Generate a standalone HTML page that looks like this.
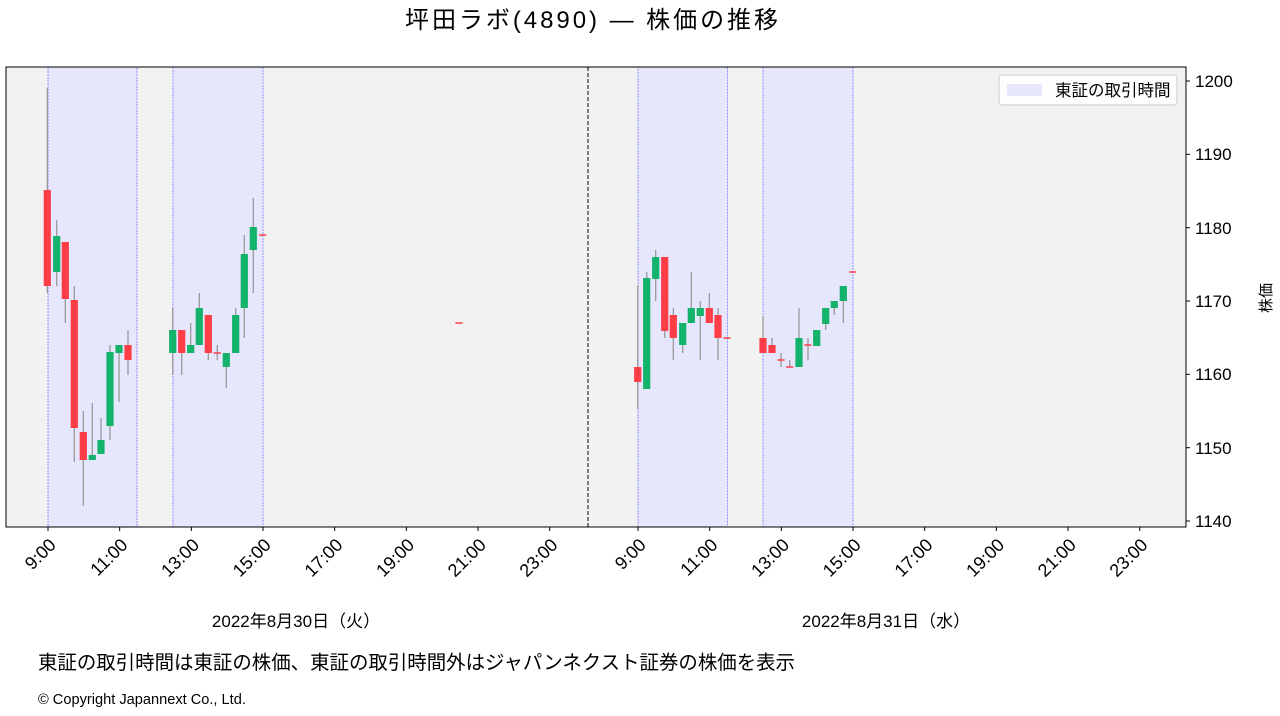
<!DOCTYPE html>
<html><head><meta charset="utf-8"><style>
body{margin:0;background:#fff;}
svg{display:block;font-family:"Liberation Sans","Noto Sans CJK JP",sans-serif;}
</style></head><body>
<svg width="1280" height="716" viewBox="0 0 1280 716" xmlns="http://www.w3.org/2000/svg">
<text x="405" y="28" font-size="24" textLength="373" lengthAdjust="spacing" fill="#000">坪田ラボ(4890) ― 株価の推移</text>
<rect x="6" y="67" width="1180" height="460" fill="#f2f2f2"/>
<g fill="#e6e6fc" stroke="#7a7aff" stroke-width="0.8" stroke-dasharray="2,1">
<rect x="48" y="67" width="89" height="460"/>
<rect x="173" y="67" width="90" height="460"/>
<rect x="638" y="67" width="89.5" height="460"/>
<rect x="763" y="67" width="90" height="460"/>
</g>
<line x1="588" y1="67" x2="588" y2="527" stroke="#000" stroke-width="1" stroke-dasharray="4,2"/>
<g id="c"></g>
<rect x="6" y="67" width="1180" height="460" fill="none" stroke="#000" stroke-width="1"/>
<g stroke="#000" stroke-width="1">
<line x1="1186" y1="81" x2="1190" y2="81"/><line x1="1186" y1="154.3" x2="1190" y2="154.3"/><line x1="1186" y1="227.7" x2="1190" y2="227.7"/><line x1="1186" y1="301" x2="1190" y2="301"/><line x1="1186" y1="374.3" x2="1190" y2="374.3"/><line x1="1186" y1="447.7" x2="1190" y2="447.7"/><line x1="1186" y1="521" x2="1190" y2="521"/>
</g>
<g font-size="17" fill="#000">
<text x="1195" y="87">1200</text><text x="1195" y="160">1190</text><text x="1195" y="234">1180</text><text x="1195" y="307">1170</text><text x="1195" y="380">1160</text><text x="1195" y="454">1150</text><text x="1195" y="527">1140</text>
</g>
<text transform="translate(1271,298) rotate(-90)" font-size="15" text-anchor="middle">株価</text>
<g id="xt" font-size="18"></g>
<rect x="999" y="75" width="178" height="30" rx="3" fill="#fff" fill-opacity="0.85" stroke="#ccc"/>
<rect x="1007" y="84" width="35" height="12" fill="#e6e6fc"/>
<text x="1055" y="96" font-size="16.5">東証の取引時間</text>
<text x="296" y="627" font-size="17" text-anchor="middle">2022年8月30日（火）</text>
<text x="886" y="627" font-size="17" text-anchor="middle">2022年8月31日（水）</text>
<text x="38" y="669" font-size="19.5" textLength="757" lengthAdjust="spacingAndGlyphs">東証の取引時間は東証の株価、東証の取引時間外はジャパンネクスト証券の株価を表示</text>
<text x="38" y="704" font-size="14.6">© Copyright Japannext  Co., Ltd.</text>
</svg>
<script>
const ns="http://www.w3.org/2000/svg";
const c=document.getElementById('c');
function el(t,a){const e=document.createElementNS(ns,t);for(const k in a)e.setAttribute(k,a[k]);c.appendChild(e);}
const R="#ff3d47",G="#13b36b";
const d=[
[47.3,190,286,88,293,R],[56.7,236,272,220,286,G],[65.3,242,299,242,323,R],[74.3,300,428,286,462,R],[83.3,432,460,411,506,R],[92.3,455,460,403,460,G],[101,440,454,418,454,G],[110,352,426,345,440,G],[119,345,353,345,402,G],[128,345,360,330,375,R],
[172.7,330,353,308,375,G],[181.7,330,353,330,375,R],[190.7,345,353,323,353,G],[199.3,308,345,293,345,G],[208.3,315,353,315,360,R],[217.3,353,353,345,360,R],[226.3,353,367,353,388,G],[235.7,315,353,308,353,G],[244.3,254,308,235,338,G],[253.3,227,250,198,293,G],[262.7,235,235,235,235,R],
[459,323,323,323,323,R],
[637.7,367,382,285,409,R],[646.7,278,389,272,389,G],[655.7,257,279,250,301,G],[664.7,257,331,257,338,R],[673.3,315,338,308,360,R],[682.7,323,345,323,353,G],[691.3,308,323,272,323,G],[700.3,308,316,301,360,G],[709.3,308,323,293,323,R],[718,315,338,308,360,R],[727,338,338,338,338,R],
[763,338,353,316,353,R],[772,345,353,338,353,R],[781,360,360,353,367,R],[789.7,367,367,360,367,R],[799,338,367,308,367,G],[808,345,345,338,360,R],[816.7,330,346,330,346,G],[825.7,308,324,308,330,G],[834.3,301,308,301,315,G],[843.3,286,301,286,323,G],[852.7,272,272,272,272,R]];
for(const [x,bt,bb,wt,wb,col] of d){
 if(wb>wt) el('line',{x1:x,y1:wt,x2:x,y2:wb,stroke:'#999','stroke-width':1.3});
 const h=Math.max(bb-bt,1.5);
 el('rect',{x:x-3.6,y:bt-(bb==bt?0.75:0),width:7.2,height:h,fill:col});
}
const xt=document.getElementById('xt');
const labs=["9:00","11:00","13:00","15:00","17:00","19:00","21:00","23:00"];
for(const base of [48,638]){
 labs.forEach((l,i)=>{
  const x=base+i*71.67;
  const ln=document.createElementNS(ns,'line');
  ln.setAttribute('x1',x);ln.setAttribute('x2',x);ln.setAttribute('y1',527);ln.setAttribute('y2',531);ln.setAttribute('stroke','#000');xt.appendChild(ln);
  const t=document.createElementNS(ns,'text');
  t.setAttribute('transform',`translate(${x+9},${546}) rotate(-45)`);
  t.setAttribute('text-anchor','end');t.textContent=l;xt.appendChild(t);
 });
}
</script>
</body></html>
